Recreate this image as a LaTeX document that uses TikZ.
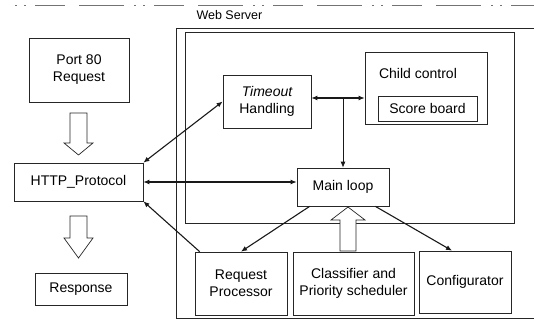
\documentclass[tikz,border=0pt]{standalone}
\usepackage{fontspec}
\setmainfont{Liberation Sans}
\usetikzlibrary{arrows.meta}
\begin{document}
\begin{tikzpicture}[x=1pt,y=-1pt,
  box/.style={draw=black!85,line width=0.7pt,inner sep=0pt,align=center,
    font=\fontsize{14}{17}\selectfont},
  conn/.style={line width=1.1pt,draw=black!90},
  tip/.style={-{Latex[length=6pt,width=5pt]}},
  tips/.style={{Latex[length=6pt,width=5pt]}-{Latex[length=6pt,width=5pt]}},
  hollow/.style={draw=black!85,line width=0.7pt,fill=white,line join=miter}]
\useasboundingbox (0,0) rectangle (534,320);
% scan line at top
\draw[black!55,line width=0.8pt,dash pattern=on 2pt off 7pt on 2pt off 9pt on 30pt off 14pt on 45pt off 10pt]
  (15,5) -- (534,5);
% containers
\node[font=\fontsize{12.5}{14}\selectfont,anchor=west] (ws) at (193,15) {Web Server};
\draw[draw=black!85,line width=0.7pt] (176,318) -- (176,28) -- (534,28);
\draw[draw=black!85,line width=0.7pt] (176,318) -- (534,318);
\draw[draw=black!85,line width=0.7pt] (185,32) rectangle (514,223);
% left column
\node[box,minimum width=100pt,minimum height=64pt] (port) at (79,70) {Port 80\\Request};
\node[box,minimum width=129pt,minimum height=38pt] (http) at (78.5,182) {HTTP\_Protocol};
\node[box,minimum width=92pt,minimum height=32pt] (resp) at (81,289) {Response};
% inner components
\node[box,minimum width=88pt,minimum height=53pt] (timeout) at (267,101.5) {\itshape Timeout\\Handling};
\node[box,minimum width=122pt,minimum height=72pt] (child) at (426,88) {};
\node[font=\fontsize{14}{17}\selectfont] (childlbl) at (418,73) {Child control};
\node[box,minimum width=99pt,minimum height=25pt] (score) at (427.5,108.5) {Score board};
\node[box,minimum width=92pt,minimum height=38pt] (main) at (343,187) {Main loop};
% bottom components
\node[box,minimum width=92pt,minimum height=63pt] (rp) at (241,283.5) {Request\\Processor};
\node[box,minimum width=121pt,minimum height=63pt] (cls) at (353.5,283.5) {Classifier and\\Priority scheduler};
\node[box,minimum width=92pt,minimum height=62pt] (conf) at (465,282) {Configurator};
% hollow arrows
\draw[hollow] (70,113) -- (87,113) -- (87,143) -- (93,143) -- (78.5,155) -- (64,143) -- (70,143) -- cycle;
\draw[hollow] (70,216) -- (87,216) -- (87,238) -- (93,238) -- (78.5,258) -- (64,238) -- (70,238) -- cycle;
\draw[hollow] (340,251) -- (356,251) -- (356,220) -- (365,220) -- (348,207) -- (331,220) -- (340,220) -- cycle;
% connectors
\coordinate (junc) at (343,98);
\draw[conn,tips] (timeout.east |- junc) -- (child.west |- junc);
\draw[conn,tip,line width=0.8pt] (junc) -- (main.north);
\draw[conn,tips] (http.east) -- (main.west |- http.east);
\draw[conn,tips] (http.north east) -- (timeout.west);
\draw[conn,tip] ([xshift=5pt]rp.north west) -- (http.south east);
\draw[conn,tip] ([xshift=13pt]main.south west) -- (rp.north);
\draw[conn,tip] ([xshift=-14pt]main.south east) -- ([xshift=-13pt]conf.north);
\end{tikzpicture}
\end{document}
